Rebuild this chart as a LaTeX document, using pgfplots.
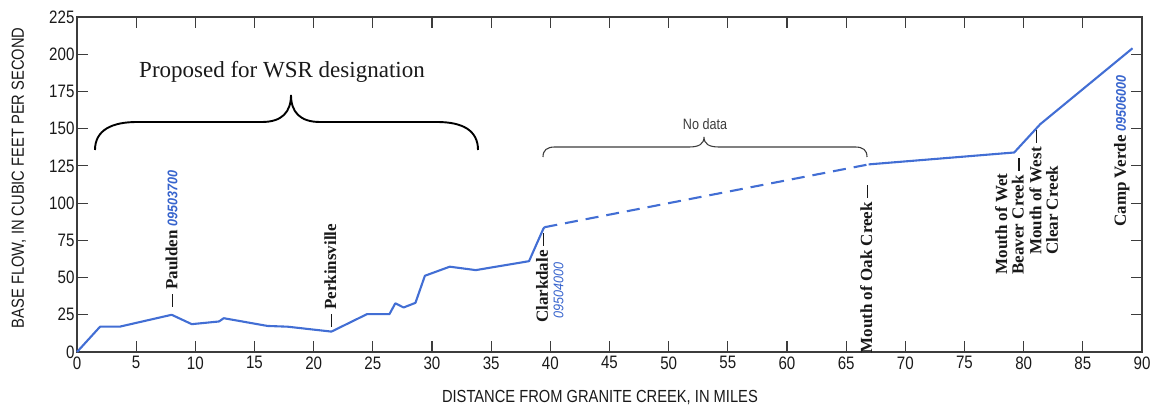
\documentclass[border=0pt]{standalone}
\usepackage{pgfplots}
\pgfplotsset{compat=1.18}
\usepackage{fontspec}
\setmainfont{Liberation Serif}
\newfontfamily\cond[FakeStretch=0.84]{Liberation Sans}
\newfontfamily\blu[FakeStretch=0.9]{Liberation Sans}
\definecolor{lineblue}{RGB}{66,110,212}
\definecolor{numblue}{RGB}{55,100,205}
\definecolor{axgray}{RGB}{60,60,60}
\definecolor{txt}{RGB}{25,25,25}
\newcommand{\dsh}{\rule[0.24em]{0.75em}{0.075em}}
\newcommand{\lab}{\bfseries\fontsize{17}{16.5}\selectfont}
\newcommand{\gagenum}[1]{{\blu\itshape\fontsize{14}{14}\selectfont\color{numblue}#1}}
\begin{document}
\begin{tikzpicture}
\path[use as bounding box] (-77pt,-60pt) rectangle (1073pt,352pt);
\begin{axis}[
  at={(0pt,0pt)}, anchor=south west,
  scale only axis, width=1065pt, height=335pt,
  xmin=0, xmax=90, ymin=0, ymax=225,
  xtick={0,5,...,90}, ytick={0,25,...,225},
  xtick pos=both, ytick pos=both,
  xticklabel pos=lower, yticklabel pos=left,
  tick align=inside, major tick length=11pt,
  axis line style={line width=1.4pt, axgray},
  every tick/.style={line width=1.2pt, axgray},
  /pgf/number format/assume math mode=true,
  ticklabel style={font=\cond\fontsize{18}{18}\selectfont, text=txt},
  xticklabel style={yshift=-1pt},
  yticklabel style={xshift=1pt},
  xlabel={DISTANCE FROM GRANITE CREEK, IN MILES},
  ylabel={BASE FLOW, IN CUBIC FEET PER SECOND},
  label style={font=\cond\fontsize{17.5}{17.5}\selectfont, text=txt},
  xlabel style={at={(axis description cs:0.491,-0.137)}, anchor=center},
  ylabel style={at={(axis description cs:-0.0545,0.52)}, anchor=center, rotate=0},
  clip=false,
]
\addplot[lineblue, line width=2.1pt, line join=round] coordinates {
 (0,0) (1.95,17) (3.6,17) (8.0,25) (9.7,18.7) (12.0,20.5) (12.4,22.7)
 (16.1,17.5) (17.8,17) (21.5,13.7) (24.5,25.4) (26.4,25.4) (26.9,32.7)
 (27.6,29.9) (28.6,33) (29.4,51.2) (31.5,57.3) (33.7,55) (38.2,61)
 (39.4,82.6) (39.5,83.8)
};
\addplot[lineblue, line width=2.1pt, dash pattern=on 13pt off 8pt] coordinates {
 (39.5,83.8) (66.9,126)
};
\addplot[lineblue, line width=2.1pt, line join=round] coordinates {
 (66.9,126) (79.2,134) (81.4,153) (89.2,204)
};
\node[rotate=90, anchor=west, inner sep=0pt, text=txt, font=\lab] at (axis cs:8.0,30.2) {\dsh\ Paulden\hspace{4pt}\gagenum{09503700}};
\node[rotate=90, anchor=west, inner sep=0pt, text=txt, font=\lab] at (axis cs:21.4,16.8) {\dsh\ Perkinsville};
\node[rotate=90, anchor=east, inner sep=0pt, text=txt, font=\lab] at (axis cs:39.3,79.9) {Clarkdale \dsh};
\node[rotate=90, anchor=center, inner sep=0pt] at (axis cs:40.7,41.6) {\gagenum{09504000}};
\node[rotate=90, anchor=east, inner sep=0pt, text=txt, font=\lab] at (axis cs:66.7,112.2) {Mouth of Oak Creek \dsh};
\node[rotate=90, anchor=east, inner sep=0pt, text=txt, font=\lab, align=left] at (axis cs:78.8,130.3) {Mouth of Wet\\Beaver Creek \dsh};
\node[rotate=90, anchor=east, inner sep=0pt, text=txt, font=\lab, align=left] at (axis cs:81.7,149.1) {Mouth of West \dsh\\Clear Creek};
\node[rotate=90, anchor=west, inner sep=0pt, text=txt, font=\lab] at (axis cs:88.3,84.0) {Camp Verde\hspace{4pt}\gagenum{09506000}};
\end{axis}
\begin{scope}[x=1pt, y=1pt]
\draw[line width=1.9pt, black] (18,202) .. controls (18,222) and (35,230) .. (60,230) -- (185,230) .. controls (205,230) and (214,240) .. (214,257) .. controls (214,240) and (223,230) .. (243,230) -- (360,230) .. controls (385,230) and (401,222) .. (401,202);
\node[anchor=base, inner sep=0pt, font=\fontsize{23}{23}\selectfont, text=txt] at (205,274) {Proposed for WSR designation};
\draw[line width=1.1pt, axgray] (466,195) .. controls (466,202) and (470,205) .. (478,205) -- (612,205) .. controls (622,205) and (627,208) .. (627,215) .. controls (627,208) and (632,205) .. (642,205) -- (778,205) .. controls (786,205) and (790,202) .. (790,195);
\node[anchor=center, inner sep=0pt, font=\cond\fontsize{15}{15}\selectfont, text=axgray] at (628,228) {No data};
\end{scope}
\end{tikzpicture}
\end{document}
